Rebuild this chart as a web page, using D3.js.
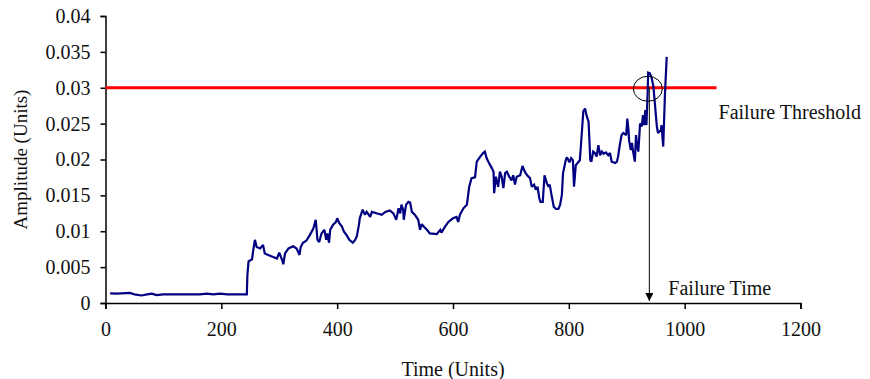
<!DOCTYPE html>
<html>
<head>
<meta charset="utf-8">
<script src="https://cdn.jsdelivr.net/npm/d3@7"></script>
<style>
  body { margin: 0; background: #fff; }
  text { font-family: "Liberation Serif", "Times New Roman", serif; }
</style>
</head>
<body>
<svg id="canvas" width="870" height="379"></svg>
<script>
/********** Initialisation *********/
var svg = d3.select("#canvas");
var width = +svg.attr("width");
var height = +svg.attr("height");


/************* Data **************/
//Signal samples: time (units) and amplitude (units)
var time = [
    8, 20, 42, 50, 62, 72, 80, 88, 100, 117, 140, 163, 175, 186, 198, 210, 221, 232, 241, 244,
    245, 247, 253, 255, 258, 261, 267, 272, 275, 284, 296, 300, 304, 307, 310, 316, 324, 330,
    335, 337, 341, 347, 353, 359, 363, 366, 369, 373, 378, 381, 383, 386, 388, 393, 398, 400,
    404, 408, 412, 416, 421, 427, 431, 434, 438, 439, 444, 448, 451, 457, 460, 468, 477, 483,
    491, 497, 502, 506, 509, 511, 514, 515, 519, 523, 526, 529, 534, 540, 543, 546, 549, 555,
    560, 572, 578, 580, 586, 592, 600, 606, 609, 612, 618, 624, 628, 632, 638, 641, 647, 652,
    655, 658, 661, 667, 670, 671, 674, 678, 681, 684, 687, 690, 693, 697, 701, 704, 707, 710,
    716, 720, 724, 728, 733, 736, 740, 743, 746, 749, 751, 755, 758, 762, 765, 767, 770, 774,
    778, 782, 785, 788, 790, 795, 797, 801, 804, 807, 809, 812, 815, 819, 822, 825, 828, 831,
    834, 835, 837, 839, 842, 845, 848, 851, 854, 857, 860, 864, 868, 871, 874, 880, 883, 885,
    888, 891, 894, 899, 901, 903, 904, 907, 909, 911, 914, 916, 918, 920, 923, 926, 928, 930,
    932, 934, 936, 937, 940, 943, 946, 949, 952, 954, 959, 960, 963, 966, 969
];

var amplitude = [
    0.00135, 0.0013, 0.0014, 0.0012, 0.00105, 0.0012, 0.0013, 0.0011, 0.0012, 0.0012, 0.0012, 0.0012, 0.0013, 0.0012, 0.0013, 0.0012, 0.0012, 0.0012, 0.0012, 0.0012,
    0.0039, 0.0058, 0.0061, 0.0073, 0.0088, 0.0078, 0.0076, 0.0081, 0.0069, 0.0066, 0.0062, 0.0070, 0.0062, 0.0054, 0.0069, 0.0076, 0.0079, 0.0076,
    0.0067, 0.0078, 0.0084, 0.0087, 0.0095, 0.0104, 0.0116, 0.0088, 0.0085, 0.0097, 0.0102, 0.0088, 0.0097, 0.0084, 0.0102, 0.0109, 0.0113, 0.0118,
    0.0111, 0.0107, 0.0099, 0.0095, 0.0088, 0.0084, 0.0088, 0.0093, 0.0111, 0.0118, 0.0130, 0.0123, 0.0127, 0.0120, 0.0127, 0.0125, 0.0123, 0.0127,
    0.0129, 0.0125, 0.0116, 0.0132, 0.0125, 0.0137, 0.0130, 0.0116, 0.0137, 0.0141, 0.0140, 0.0127, 0.0123, 0.0116, 0.0102, 0.0110, 0.0107, 0.0102,
    0.0097, 0.0096, 0.0102, 0.0098, 0.0106, 0.0113, 0.0118, 0.0120, 0.0113, 0.0123, 0.0132, 0.0137, 0.0162, 0.0174, 0.0175, 0.0197, 0.0204, 0.0209,
    0.0211, 0.0202, 0.0197, 0.0188, 0.0183, 0.0153, 0.0176, 0.0162, 0.0183, 0.0176, 0.0160, 0.0181, 0.0183, 0.0176, 0.0171, 0.0178, 0.0165, 0.0176,
    0.0178, 0.0191, 0.0183, 0.0178, 0.0174, 0.0162, 0.0165, 0.0158, 0.0162, 0.0146, 0.0141, 0.0141, 0.0178, 0.0167, 0.0162, 0.0165, 0.0151, 0.0134,
    0.0131, 0.0131, 0.0137, 0.0151, 0.0181, 0.0200, 0.0203, 0.0196, 0.0202, 0.0199, 0.0162, 0.0192, 0.0195, 0.0199, 0.0232, 0.0267, 0.0271, 0.0260,
    0.0253, 0.0237, 0.0199, 0.0197, 0.0211, 0.0209, 0.0204, 0.0220, 0.0206, 0.0211, 0.0208, 0.0210, 0.0206, 0.0209, 0.0197, 0.0195, 0.0197, 0.0204,
    0.0220, 0.0234, 0.0237, 0.0234, 0.0257, 0.0241, 0.0227, 0.0213, 0.0223, 0.0211, 0.0197, 0.0234, 0.0218, 0.0211, 0.0250, 0.0246, 0.0262, 0.0248,
    0.0269, 0.0248, 0.0292, 0.0321, 0.0320, 0.0314, 0.0302, 0.0274, 0.0246, 0.0237, 0.0241, 0.0248, 0.0218, 0.0292, 0.0343
];

//Axes
var x_ticks = [0, 200, 400, 600, 800, 1000, 1200];
var y_ticks = [0, 0.005, 0.01, 0.015, 0.02, 0.025, 0.03, 0.035, 0.04];

//Annotations
var threshold = 0.03;
var threshold_end = 1055;
var failure_time = 939;

var series = time.map(function(t, i) { return {t: t, v: amplitude[i]}; });


/*********** Scales *************/
var x = d3.scaleLinear().domain([0, 1200]).range([105.5, 800.5]);
var y = d3.scaleLinear().domain([0, 0.04]).range([303, 16]);

var g = svg.append("g");


/********** Axes ***********/
var x_axis = g.append("g")
    .attr("transform", "translate(0," + y(0) + ")")
    .call(d3.axisBottom(x).tickValues(x_ticks).tickSize(6).tickPadding(13)
        .tickFormat(d3.format("d")));

var y_axis = g.append("g")
    .attr("transform", "translate(" + x(0) + ",0)")
    .call(d3.axisLeft(y).tickValues(y_ticks).tickSize(5).tickPadding(10)
        .tickFormat(function(d) { return d === 0 ? "0" : d3.format("")(+d.toFixed(3)); }));

[x_axis, y_axis].forEach(function(a) {
    a.selectAll("path, line").attr("stroke", "#000").attr("stroke-width", 1.5);
    a.selectAll("text")
        .attr("fill", "#111")
        .style("font-family", "'Liberation Serif', 'Times New Roman', serif")
        .style("font-size", "20px");
});

g.append("text")
    .attr("x", (x.range()[0] + x.range()[1]) / 2)
    .attr("y", 376)
    .attr("text-anchor", "middle")
    .style("font-size", "20px")
    .attr("fill", "#111")
    .text("Time (Units)");

g.append("text")
    .attr("transform", "translate(27," + ((y.range()[0] + y.range()[1]) / 2) + ") rotate(-90)")
    .attr("text-anchor", "middle")
    .style("font-size", "19px")
    .attr("fill", "#111")
    .text("Amplitude (Units)");


/********** Threshold ***********/
g.append("line")
    .attr("x1", x(0)).attr("x2", x(threshold_end))
    .attr("y1", y(threshold)).attr("y2", y(threshold))
    .attr("stroke", "#ff0000")
    .attr("stroke-width", 3);


/********** Signal ***********/
var line = d3.line()
    .x(function(d) { return x(d.t); })
    .y(function(d) { return y(d.v); });

g.append("path")
    .datum(series)
    .attr("d", line)
    .attr("fill", "none")
    .attr("stroke", "#000080")
    .attr("stroke-width", 2.2)
    .attr("stroke-linejoin", "miter")
    .attr("stroke-miterlimit", 2);


/********** Failure annotation ***********/
g.append("ellipse")
    .attr("cx", x(failure_time) - 1.5)
    .attr("cy", y(threshold) + 1)
    .attr("rx", 14.5)
    .attr("ry", 12.5)
    .attr("fill", "none")
    .attr("stroke", "#000")
    .attr("stroke-width", 1);

svg.append("defs").append("marker")
    .attr("id", "arrow")
    .attr("viewBox", "0 0 10 10")
    .attr("refX", 10).attr("refY", 5)
    .attr("markerWidth", 10).attr("markerHeight", 8)
    .attr("markerUnits", "userSpaceOnUse")
    .attr("orient", "auto")
    .append("path")
    .attr("d", "M0,0L10,5L0,10Z")
    .attr("fill", "#000");

g.append("line")
    .attr("x1", x(failure_time)).attr("x2", x(failure_time))
    .attr("y1", y(threshold)).attr("y2", y(0) - 2)
    .attr("stroke", "#000")
    .attr("stroke-width", 1)
    .attr("marker-end", "url(#arrow)");

g.append("text")
    .attr("x", x(threshold_end) + 2)
    .attr("y", 119)
    .style("font-size", "20px")
    .attr("fill", "#111")
    .text("Failure Threshold");

g.append("text")
    .attr("x", x(failure_time) + 19)
    .attr("y", 295)
    .style("font-size", "20px")
    .attr("fill", "#111")
    .text("Failure Time");
</script>
</body>
</html>
